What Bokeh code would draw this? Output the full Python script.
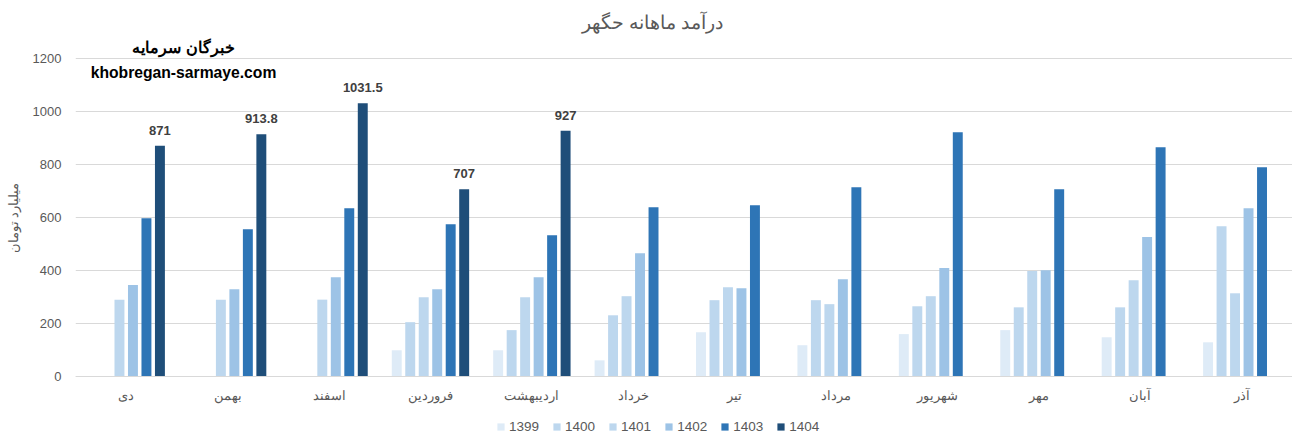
from bokeh.plotting import figure
from bokeh.models import (ColumnDataSource, FactorRange, Range1d, Legend, LegendItem,
                          Label, FixedTicker)
from bokeh.transform import dodge
from bokeh.core.properties import value
from bokeh.embed import file_html
from bokeh.resources import INLINE

# ---------------- data ----------------
months = ["دی", "بهمن", "اسفند", "فروردین", "اردیبهشت", "خرداد",
          "تیر", "مرداد", "شهریور", "مهر", "آبان", "آذر"]
years = ["1399", "1400", "1401", "1402", "1403", "1404"]
v1399 = [None, None, None, 99, 99, 61, 167, 118, 160, 175, 148, 129]
v1400 = [None, None, None, 205, 175, 231, 288, 288, 265, 261, 261, 567]
v1401 = [290, 290, 290, 299, 299, 303, 337, 273, 303, 398, 363, 314]
v1402 = [345, 329, 375, 329, 375, 465, 333, 367, 409, 401, 526, 635]
v1403 = [597, 556, 635, 575, 533, 639, 646, 714, 922, 707, 865, 790]
v1404 = [871, 913.8, 1031.5, 707, 927, None, None, None, None, None, None, None]
y_ticks = [0, 200, 400, 600, 800, 1000, 1200]

title_text = "درآمد ماهانه حگهر"
y_label = "میلیارد تومان"
brand_fa = "خبرگان سرمایه"
brand_en = "khobregan-sarmaye.com"

series = [v1399, v1400, v1401, v1402, v1403, v1404]
colors = ["#deebf7", "#bdd7ee", "#bdd7ee", "#9dc3e6", "#2e75b6", "#1f4e79"]

FONT = "Liberation Sans"
GRAY = "#595959"

# the frame fills the whole figure height; the zero line sits 376 px from
# the top and 1200 units occupy 318 px
H = 435
ZERO_PX = 376
PPU = 318 / 1200.0
Y_TOP = ZERO_PX / PPU
Y_BOT = -(H - ZERO_PX) / PPU

p = figure(x_range=FactorRange(*months), y_range=Range1d(Y_BOT, Y_TOP),
           width=1292, height=H, output_backend="svg", toolbar_location=None,
           title=None, min_border_left=75, min_border_right=0, min_border_top=0,
           min_border_bottom=0)
p.outline_line_color = None
p.background_fill_color = "white"
p.border_fill_color = "white"

p.xgrid.grid_line_color = None
p.ygrid.grid_line_color = "#d9d9d9"
p.ygrid.grid_line_width = 1

p.yaxis.ticker = FixedTicker(ticks=y_ticks)
p.yaxis.axis_line_color = None
p.yaxis.major_tick_line_color = None
p.yaxis.minor_tick_line_color = None
p.yaxis.major_tick_out = 0
p.yaxis.major_label_standoff = 14
p.yaxis.major_label_text_color = GRAY
p.yaxis.major_label_text_font = FONT
p.yaxis.major_label_text_font_size = "13px"
p.yaxis.axis_label = y_label
p.yaxis.axis_label_text_font = FONT
p.yaxis.axis_label_text_font_style = "normal"
p.yaxis.axis_label_text_font_size = "13px"
p.yaxis.axis_label_text_color = GRAY
p.yaxis.axis_label_standoff = 9

p.xaxis.fixed_location = 0
p.xaxis.axis_line_color = "#d9d9d9"
p.xaxis.major_tick_line_color = None
p.xaxis.minor_tick_line_color = None
p.xaxis.major_tick_out = 0
p.xaxis.major_label_standoff = 11
p.xaxis.major_label_text_color = GRAY
p.xaxis.major_label_text_font = FONT
p.xaxis.major_label_text_font_size = "13px"

slot = 0.133
bar_w = 0.098
items = []
for i, (yr, vals, col) in enumerate(zip(years, series, colors)):
    mm = [m for m, v in zip(months, vals) if v is not None]
    vv = [v for v in vals if v is not None]
    src = ColumnDataSource(dict(month=mm, v=vv,
                                t=["{:g}".format(v) for v in vv]))
    off = (i - 2.5) * slot
    r = p.vbar(x=dodge("month", off, range=p.x_range), top="v", width=bar_w,
               source=src, fill_color=col, line_color=None)
    items.append(LegendItem(label=yr, renderers=[r]))
    if yr == "1404":
        p.text(x=dodge("month", off, range=p.x_range), y="v", text="t",
               source=src, text_align="center", text_baseline="bottom",
               y_offset=-11, text_font=value(FONT), text_font_style="bold",
               text_font_size="13px", text_color="#404040")

legend = Legend(items=items, location=(421, 1), orientation="horizontal",
                glyph_width=9, glyph_height=9, label_standoff=4, spacing=13,
                label_height=14, label_text_font=FONT, label_text_font_size="13.5px",
                label_text_color=GRAY, padding=0, margin=0,
                border_line_color=None, background_fill_alpha=0)
p.add_layout(legend)

p.add_layout(Label(x=5.69, y=1336, text=title_text, text_align="center",
                   text_baseline="middle", text_font=FONT, text_font_size="19px",
                   text_color=GRAY))
p.add_layout(Label(x=1.065, y=1241, text=brand_fa, text_align="center",
                   text_baseline="middle", text_font=FONT, text_font_size="15.5px",
                   text_font_style="bold", text_color="black"))
p.add_layout(Label(x=1.065, y=1147, text=brand_en, text_align="center",
                   text_baseline="middle", text_font=FONT, text_font_size="15.7px",
                   text_font_style="bold", text_color="black"))

open("out.html", "w").write(file_html(p, INLINE))
